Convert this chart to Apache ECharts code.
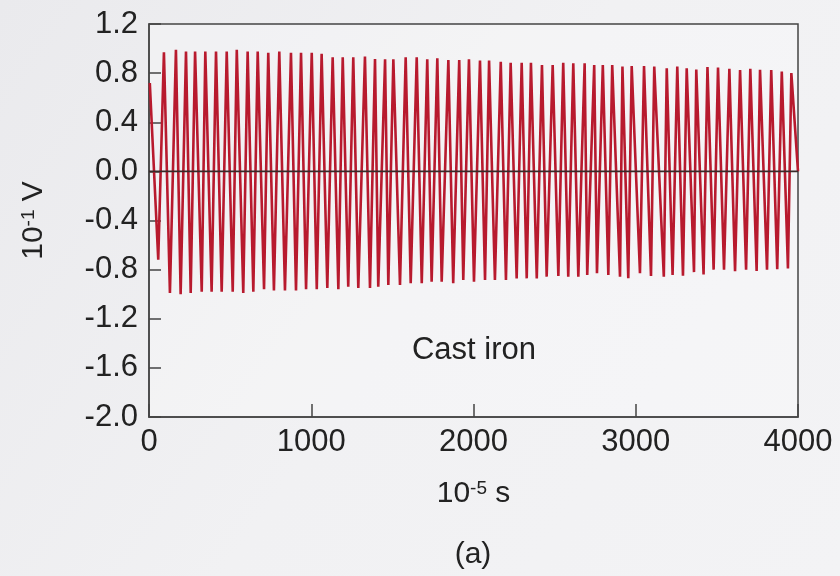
<!DOCTYPE html>
<html>
<head>
<meta charset="utf-8">
<script src="https://cdn.jsdelivr.net/npm/echarts@6/dist/echarts.min.js"></script>
<style>
    html, body { margin: 0; padding: 0; }
    #main { width: 840px; height: 576px; }
</style>
</head>
<body>
<div id="main"></div>
<script>
// time (10^-5 s) of each turning point of the trace
let timeData = [5, 57, 92, 129, 166, 195, 228, 257, 284, 325,
    347, 386, 413, 448, 479, 516, 541, 581, 608, 643,
    670, 709, 735, 770, 803, 838, 875, 906, 937, 968,
    1003, 1034, 1064, 1099, 1132, 1167, 1194, 1228, 1259, 1290,
    1331, 1362, 1393, 1413, 1455, 1475, 1506, 1547, 1582, 1613,
    1650, 1681, 1715, 1742, 1777, 1804, 1845, 1875, 1912, 1937,
    1972, 2003, 2040, 2071, 2096, 2132, 2168, 2200, 2229, 2266,
    2297, 2328, 2354, 2390, 2422, 2451, 2488, 2523, 2553, 2584,
    2615, 2646, 2685, 2701, 2744, 2761, 2797, 2831, 2855, 2903,
    2918, 2954, 2975, 3026, 3051, 3094, 3114, 3173, 3191, 3227,
    3256, 3291, 3314, 3359, 3373, 3418, 3442, 3480, 3507, 3544,
    3577, 3612, 3643, 3680, 3706, 3745, 3766, 3809, 3835, 3872,
    3900, 3938, 3959, 4000];

// voltage (10^-1 V) at those points
let voltData = [0.72, -0.72, 0.97, -0.99, 0.99, -1.00, 0.975, -0.99, 0.975, -0.98,
    0.975, -0.98, 0.975, -0.98, 0.975, -0.98, 0.99, -0.99, 0.975, -0.98,
    0.975, -0.96, 0.965, -0.97, 0.975, -0.97, 0.965, -0.97, 0.965, -0.96,
    0.965, -0.96, 0.957, -0.95, 0.93, -0.96, 0.93, -0.94, 0.93, -0.95,
    0.935, -0.95, 0.915, -0.94, 0.913, -0.925, 0.913, -0.925, 0.929, -0.911,
    0.929, -0.911, 0.913, -0.898, 0.921, -0.898, 0.907, -0.911, 0.907, -0.884,
    0.913, -0.898, 0.902, -0.884, 0.902, -0.884, 0.893, -0.884, 0.885, -0.871,
    0.885, -0.871, 0.885, -0.871, 0.866, -0.857, 0.866, -0.852, 0.885, -0.857,
    0.88, -0.857, 0.88, -0.844, 0.866, -0.83, 0.866, -0.844, 0.866, -0.857,
    0.853, -0.87, 0.858, -0.83, 0.858, -0.852, 0.853, -0.857, 0.84, -0.844,
    0.853, -0.85, 0.84, -0.82, 0.83, -0.84, 0.85, -0.80, 0.845, -0.80,
    0.835, -0.812, 0.826, -0.80, 0.835, -0.81, 0.828, -0.80, 0.826, -0.797,
    0.812, -0.79, 0.80, 0.0];

let zeroLine = [[0, 0], [4000, 0]];

let font = "'Liberation Sans', Arial, sans-serif";
let textColor = '#222';

let seriesData = [];
for (let i = 0; i < timeData.length; i++) {
    seriesData.push([timeData[i], voltData[i]]);
}

let myChart = echarts.init(document.getElementById('main'));

let option = {
    animation: false,
    backgroundColor: {
        type: 'linear', x: 0, y: 0, x2: 1, y2: 1,
        colorStops: [
            {offset: 0, color: '#eaeaed'},
            {offset: 0.5, color: '#f1f1f3'},
            {offset: 1, color: '#f3f3f5'}
        ]
    },
    grid: {
        left: 149,
        right: 42,
        top: 24,
        bottom: 159,
        show: true,
        backgroundColor: 'rgba(255,255,255,0.25)',
        borderColor: '#444',
        borderWidth: 1.5,
        outerBoundsMode: 'none'
    },
    xAxis: {
        type: 'value',
        min: 0,
        max: 4000,
        interval: 1000,
        name: '{n|10}{s|-5}{n| s}',
        nameLocation: 'middle',
        nameGap: 62,
        nameTextStyle: {
            rich: {
                n: {fontSize: 30, fontFamily: font, color: textColor},
                s: {fontSize: 19, fontFamily: font, color: textColor, verticalAlign: 'top'}
            }
        },
        axisLine: {show: true, onZero: false, lineStyle: {color: '#444', width: 1.5}},
        axisTick: {show: true, inside: true, length: 13, lineStyle: {color: '#444', width: 1.5}},
        axisLabel: {
            fontSize: 31,
            fontFamily: font,
            color: textColor,
            margin: 10,
            formatter: function (v) {
                return String(v);
            }
        },
        splitLine: {show: false}
    },
    yAxis: {
        type: 'value',
        min: -2.0,
        max: 1.2,
        interval: 0.4,
        name: '{n|10}{s|-1}{n| V}',
        nameLocation: 'middle',
        nameRotate: 90,
        nameGap: 100,
        nameTextStyle: {
            rich: {
                n: {fontSize: 30, fontFamily: font, color: textColor},
                s: {fontSize: 19, fontFamily: font, color: textColor, verticalAlign: 'top'}
            }
        },
        axisLine: {show: true, onZero: false, lineStyle: {color: '#444', width: 1.5}},
        axisTick: {show: true, inside: true, length: 12, lineStyle: {color: '#444', width: 1.5}},
        axisLabel: {
            fontSize: 31,
            fontFamily: font,
            color: textColor,
            margin: 11,
            formatter: function (v) {
                if (Math.abs(v) < 1e-9) return '0.0';
                return v.toFixed(1);
            }
        },
        splitLine: {show: false}
    },
    series: [{
        name: 'Cast iron',
        type: 'line',
        data: seriesData,
        symbol: 'none',
        lineStyle: {color: '#b81a2e', width: 2.6},
        z: 2
    }, {
        name: 'zero',
        type: 'line',
        data: zeroLine,
        symbol: 'none',
        silent: true,
        lineStyle: {color: '#3a2a2a', width: 1.6},
        z: 3
    }],
    graphic: [{
        type: 'text',
        x: 474,
        y: 350,
        style: {
            text: 'Cast iron',
            font: '31px ' + font,
            fill: textColor,
            textAlign: 'center',
            textVerticalAlign: 'middle'
        }
    }, {
        type: 'text',
        x: 473,
        y: 555,
        style: {
            text: '(a)',
            font: '30px ' + font,
            fill: textColor,
            textAlign: 'center',
            textVerticalAlign: 'middle'
        }
    }]
};

myChart.setOption(option);
</script>
</body>
</html>
